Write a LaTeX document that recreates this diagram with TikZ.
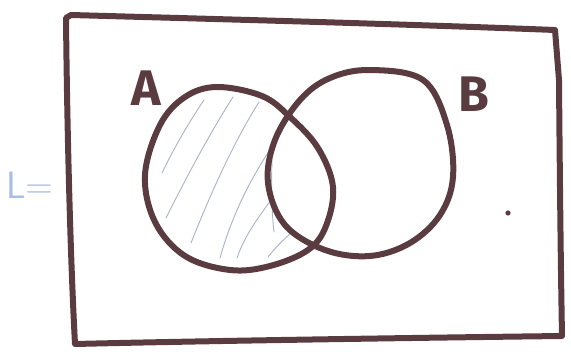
\documentclass[tikz,border=0pt]{standalone}
\usepackage{fontspec}
\newfontfamily\handfont{Fira Sans}
\definecolor{ink}{HTML}{5A3C40}
\definecolor{hatch}{HTML}{A9B2C8}
\definecolor{pale}{HTML}{A8BCE6}
\begin{document}
\begin{tikzpicture}[x=1pt,y=-1pt,
  inkline/.style={draw=ink,line width=6pt,line cap=round,line join=round},
  hatchline/.style={draw=hatch,line width=0.9pt,line cap=round},
  setlabel/.style={text=ink,font=\handfont\fontsize{50}{50}\selectfont\bfseries,inner sep=0pt}]
\useasboundingbox (0,0) rectangle (571,355);
% universe
\draw[inkline] (71,15) .. controls (250,20) and (400,24) .. (555,30)
  -- (559,80) .. controls (560,200) and (561,280) .. (562,336)
  .. controls (400,338) and (200,341) .. (75,344)
  .. controls (70,250) and (67,120) .. (66,18) -- cycle;
% hatching of A \ B
\draw[hatchline] (162,173) .. controls (178,140) and (192,118) .. (204,100);
\draw[hatchline] (166,218) .. controls (190,170) and (212,130) .. (233,97);
\draw[hatchline] (191,243) .. controls (212,190) and (235,140) .. (259,102);
\draw[hatchline] (220,258) .. controls (232,215) and (250,180) .. (271,148);
\draw[hatchline] (237,258) .. controls (245,235) and (258,218) .. (271,200);
\draw[hatchline] (268,257) .. controls (275,248) and (283,240) .. (291,233);
\draw[hatchline] (272,160) .. controls (271,190) and (272,215) .. (274,232);
% set A
\draw[inkline] plot[smooth cycle,tension=0.6] coordinates {
  (217,87) (262,96) (290,117) (318,148) (333,187) (326,226) (308,250)
  (270,266) (230,270) (185,256) (155,222) (145,175) (160,125) (185,97)};
% set B
\draw[inkline] plot[smooth cycle,tension=0.6] coordinates {
  (370,70) (423,80) (447,125) (453,177) (440,215) (410,243) (370,256)
  (325,250) (285,225) (268,183) (275,140) (300,100) (330,78)};
% labels
\node[setlabel] (labA) at (146,88) {A};
\node[setlabel] (labB) at (474,94) {B};
\node[text=pale,font=\sffamily\fontsize{38}{38}\selectfont,inner sep=0pt] (labL) at (30,185) {L=};
% dot
\fill[ink] (508,213) circle (2.6pt) coordinate (dot);
\end{tikzpicture}
\end{document}
